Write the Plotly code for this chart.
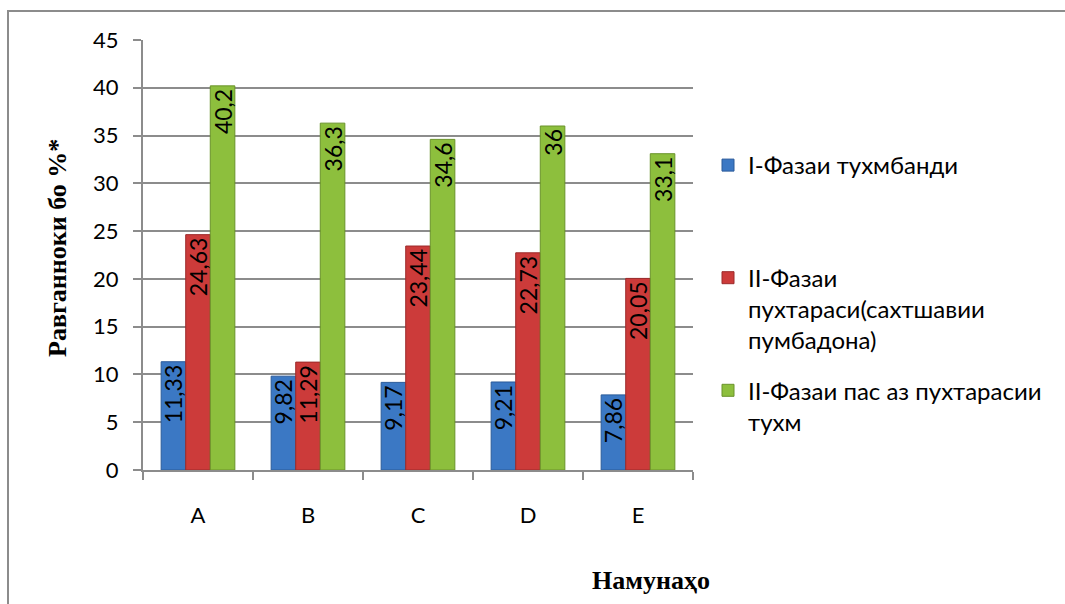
import plotly.graph_objects as go

# Samples and oil content (%) per phase
samples = ["A", "B", "C", "D", "E"]
phase1 = [11.33, 9.82, 9.17, 9.21, 7.86]
phase2 = [24.63, 11.29, 23.44, 22.73, 20.05]
phase3 = [40.2, 36.3, 34.6, 36.0, 33.1]

series_names = [
    "I-Фазаи тухмбанди<br> <br> ",
    "II-Фазаи<br>пухтараси(сахтшавии<br>пумбадона)",
    "II-Фазаи пас аз пухтарасии<br>тухм",
]
series_values = [phase1, phase2, phase3]
colors = ["#3b78c4", "#cc3b3a", "#8dbf3d"]
edge_colors = ["#2a5a99", "#9c2a2a", "#6a932a"]

y_ticks = [0, 5, 10, 15, 20, 25, 30, 35, 40, 45]

FONT = "Lato, Calibri, Carlito, sans-serif"
SERIF = "Liberation Serif, Times New Roman, serif"


def fmt(v):
    s = f"{v:g}"
    return s.replace(".", ",")


fig = go.Figure()
for name, vals, col, edge in zip(series_names, series_values, colors, edge_colors):
    fig.add_trace(go.Bar(
        x=samples,
        y=vals,
        name=name,
        marker=dict(color=col, line=dict(color=edge, width=1)),
        text=[fmt(v) for v in vals],
        textposition="inside",
        insidetextanchor="end",
        textangle=-90,
        constraintext="none",
        textfont=dict(family=FONT, size=23, color="#000000"),
        legendgroup=name,
    ))

# plot area geometry in pixels
W, H = 1065, 604
L, R, T, B = 143, 372, 40, 134
pw, ph = W - L - R, H - T - B

def px_x(x):
    return (x - L) / pw

def px_y(y):
    return 1 - (y - T) / ph

fig.update_layout(
    width=W,
    height=H,
    margin=dict(l=L, r=R, t=T, b=B, pad=0),
    paper_bgcolor="white",
    plot_bgcolor="white",
    barmode="group",
    bargap=0.33,
    bargroupgap=0,
    font=dict(family=FONT, size=22, color="#000000"),
    xaxis=dict(
        type="category",
        showgrid=False,
        showline=True,
        linecolor="#8c8c8c",
        linewidth=2,
        ticks="outside",
        tickson="boundaries",
        ticklen=8,
        tickwidth=2,
        tickcolor="#8c8c8c",
        ticklabelstandoff=25,
        tickfont=dict(family=FONT, size=22),
    ),
    yaxis=dict(
        range=[0, 45],
        tickvals=y_ticks,
        showgrid=True,
        gridcolor="#8c8c8c",
        gridwidth=2,
        showline=True,
        linecolor="#8c8c8c",
        linewidth=2,
        ticks="outside",
        ticklen=8,
        tickwidth=2,
        tickcolor="#8c8c8c",
        ticklabelstandoff=10,
        zeroline=False,
        tickfont=dict(family=FONT, size=22),
    ),
    legend=dict(
        x=px_x(708),
        y=px_y(143),
        xanchor="left",
        yanchor="top",
        valign="top",
        tracegroupgap=16,
        itemwidth=30,
        font=dict(family=FONT, size=24),
        bgcolor="rgba(0,0,0,0)",
    ),
    showlegend=True,
)

# outer chart frame
fig.add_shape(
    type="rect",
    xref="paper", yref="paper",
    x0=px_x(8), x1=px_x(1075),
    y0=px_y(615), y1=px_y(11),
    line=dict(color="#8c8c8c", width=2),
    fillcolor="rgba(0,0,0,0)",
    layer="below",
)

# axis titles
fig.add_annotation(
    text="<b>Равганноки бо %*</b>",
    xref="paper", yref="paper",
    x=px_x(57), y=px_y(248),
    xanchor="center", yanchor="middle",
    textangle=-90,
    showarrow=False,
    font=dict(family=SERIF, size=26),
)
fig.add_annotation(
    text="<b>Намунаҳо</b>",
    xref="paper", yref="paper",
    x=px_x(651), y=px_y(580),
    xanchor="center", yanchor="middle",
    showarrow=False,
    font=dict(family=SERIF, size=26),
)

fig.write_html("out.html")
